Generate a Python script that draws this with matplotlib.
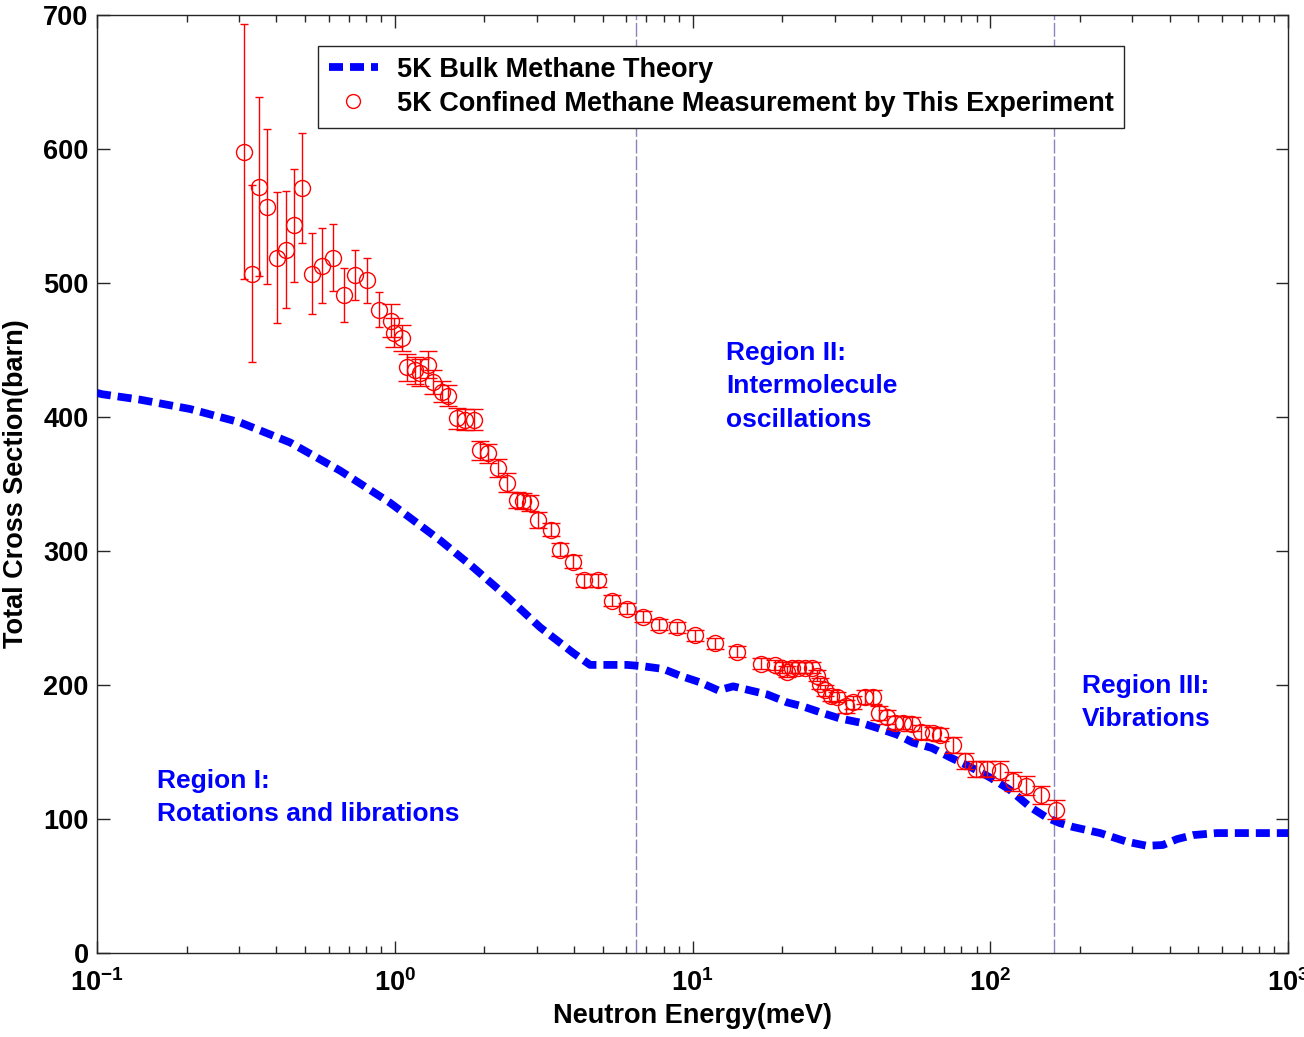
import matplotlib
matplotlib.use("Agg")
import matplotlib.pyplot as plt
import numpy as np
from matplotlib.lines import Line2D

plt.rcParams['font.family'] = ['Liberation Sans', 'DejaVu Sans']
plt.rcParams['font.weight'] = 'bold'
plt.rcParams['mathtext.default'] = 'regular'

# Theory curve (5K bulk methane)
theory_E = [0.1, 0.104, 0.139, 0.205, 0.302, 0.445, 0.655, 0.964, 1.42, 1.83, 2.38, 3.08,
            3.97, 4.53, 5.28, 6.03, 6.82, 7.96, 9.07, 10.6, 12.2, 13.7, 15.6, 17.8, 20.8,
            23.5, 27.4, 31.3, 36.5, 41.7, 48.6, 55.0, 63.7, 73.3, 85.5, 99.8, 116, 136,
            155, 171, 190, 234, 288, 336, 380, 424, 480, 577, 745, 1000]
theory_sigma = [418, 417, 413, 406, 396, 381, 360, 336, 308, 288, 266, 243,
                224, 215, 215, 215, 214, 212, 207, 202, 196, 199, 196, 193, 187,
                184, 179, 175, 172, 168, 163, 157, 153, 146, 139, 131, 122, 109,
                101, 97, 94, 89.5, 83, 80, 80.6, 85, 88, 89.5, 89.5, 89.5]

# Measurement (5K confined methane)
meas_E = [0.312, 0.332, 0.350, 0.372, 0.403, 0.432, 0.459, 0.489, 0.527, 0.570, 0.621,
          0.676, 0.735, 0.807, 0.885, 0.970, 0.994, 1.057, 1.10, 1.17, 1.22, 1.29,
          1.34, 1.44, 1.51, 1.62, 1.72, 1.84, 1.93, 2.06, 2.22, 2.38, 2.57, 2.70,
          2.85, 3.03, 3.35, 3.59, 3.97, 4.32, 4.82, 5.37, 6.03, 6.82, 7.71, 8.87,
          10.19, 11.9, 14.1, 17.0, 18.9, 19.95, 20.8, 21.6, 22.6, 23.8, 25.1, 26.1,
          26.8, 27.9, 29.2, 30.6, 32.7, 34.5, 37.9, 40.3, 42.4, 45.1, 48.0, 51.1,
          54.8, 58.4, 64.0, 68.0, 74.9, 82.3, 89.6, 97.5, 107.6, 119, 131.7, 148, 166.3]
meas_sigma = [598, 507, 572, 557, 519, 525, 543, 571, 507, 513, 519,
              491, 506, 502, 480, 472, 463, 459, 437, 435, 433, 439,
              426, 419, 416, 399, 398, 398, 375, 373, 362, 351, 338, 337,
              336, 323, 316, 301, 292, 278, 278, 263, 257, 251, 245, 243,
              237, 231, 225, 216, 215, 213, 210, 213, 213, 213, 213, 207,
              201, 196, 192, 191, 184, 187, 191, 191, 179, 176, 172, 172,
              171, 165, 164, 163, 155, 143, 137, 137, 136, 128, 125, 118, 107]
meas_err = [95, 66, 67, 58, 49, 44, 42, 41, 30, 28, 25,
            20, 19, 17, 13, 12, 11, 10, 10, 10, 10, 10,
            9, 8, 8, 8, 8, 8, 7, 7, 7, 7, 6, 6,
            6, 6, 5, 5, 5, 5, 5, 4, 4, 4, 4, 4,
            4, 4, 4, 4, 4, 4, 4, 4, 4, 4, 4, 4,
            4, 4, 4, 4, 5, 5, 5, 5, 5, 5, 5, 5,
            5, 5, 5, 5, 6, 6, 6, 6, 7, 7, 7, 7, 7]

region_bounds = [6.46, 163.7]

fig = plt.figure(figsize=(13.04, 10.37), dpi=100)
ax = fig.add_axes([97/1304, 84/1037, 1191/1304, 938/1037])

line, = ax.plot(theory_E, theory_sigma, color='#0000ff', lw=5.6,
                dashes=(1.8, 0.9), dash_capstyle='butt', solid_capstyle='butt',
                label='5K Bulk Methane Theory', zorder=3)

E = np.array(meas_E); S = np.array(meas_sigma); ER = np.array(meas_err)
early = E < 0.95
ax.errorbar(E[early], S[early], yerr=ER[early], fmt='o', ms=11.5, mfc='none',
            mec='#ff0000', mew=1.0, ecolor='#ff0000', elinewidth=1.0, capsize=2.8,
            capthick=1.0, zorder=4)
ax.errorbar(E[~early], S[~early], yerr=ER[~early], fmt='o', ms=11.5, mfc='none',
            mec='#ff0000', mew=1.0, ecolor='#ff0000', elinewidth=1.0, capsize=6.5,
            capthick=1.0, zorder=4)

for xb in region_bounds:
    ax.axvline(xb, color='#8a86bc', lw=1.0, ls=(0, (10, 2)), zorder=2)

ax.set_xscale('log')
ax.set_xlim(0.1, 1000)
ax.set_ylim(0, 700)
ax.set_yticks(range(0, 701, 100))
ax.tick_params(which='both', direction='in', top=True, right=True, labelsize=19.5,
               width=1.0, color='#262626')
ax.tick_params(which='major', length=9)
ax.tick_params(axis='x', which='major', pad=12)
ax.tick_params(axis='y', which='major', pad=6)
ax.tick_params(which='minor', length=5)
for lab in ax.get_xticklabels() + ax.get_yticklabels():
    lab.set_fontweight('bold')
for sp in ax.spines.values():
    sp.set_color('#262626')
    sp.set_linewidth(1.0)

ax.set_xlabel('Neutron Energy(meV)', fontsize=19.5, fontweight='bold', labelpad=4)
ax.set_ylabel('Total Cross Section(barn)', fontsize=19.5, fontweight='bold', labelpad=10)

txt_kw = dict(color='#0000ff', fontsize=19, fontweight='bold', ha='left', va='center')
ax.text(0.159, 128, 'Region I:', **txt_kw)
ax.text(0.159, 103.5, 'Rotations and librations', **txt_kw)
ax.text(12.96, 447.5, 'Region II:', **txt_kw)
ax.text(12.96, 423, 'Intermolecule', **txt_kw)
ax.text(12.96, 398, 'oscillations', **txt_kw)
ax.text(203, 199, 'Region III:', **txt_kw)
ax.text(203, 174.4, 'Vibrations', **txt_kw)

meas_handle = Line2D([], [], ls='none', marker='o', ms=10, mfc='none', mec='#ff0000', mew=1.0)
leg = ax.legend([line, meas_handle],
                ['5K Bulk Methane Theory', '5K Confined Methane Measurement by This Experiment'],
                loc='upper left', bbox_to_anchor=((318-97)/1191, (953-46)/938),
                borderaxespad=0, fancybox=False, edgecolor='#262626', framealpha=1,
                prop={'size': 19.5, 'weight': 'bold'}, handlelength=1.8, handletextpad=0.7,
                borderpad=0.4, labelspacing=0.3)
leg.get_frame().set_linewidth(1.0)

fig.savefig('out.png', dpi=100)
